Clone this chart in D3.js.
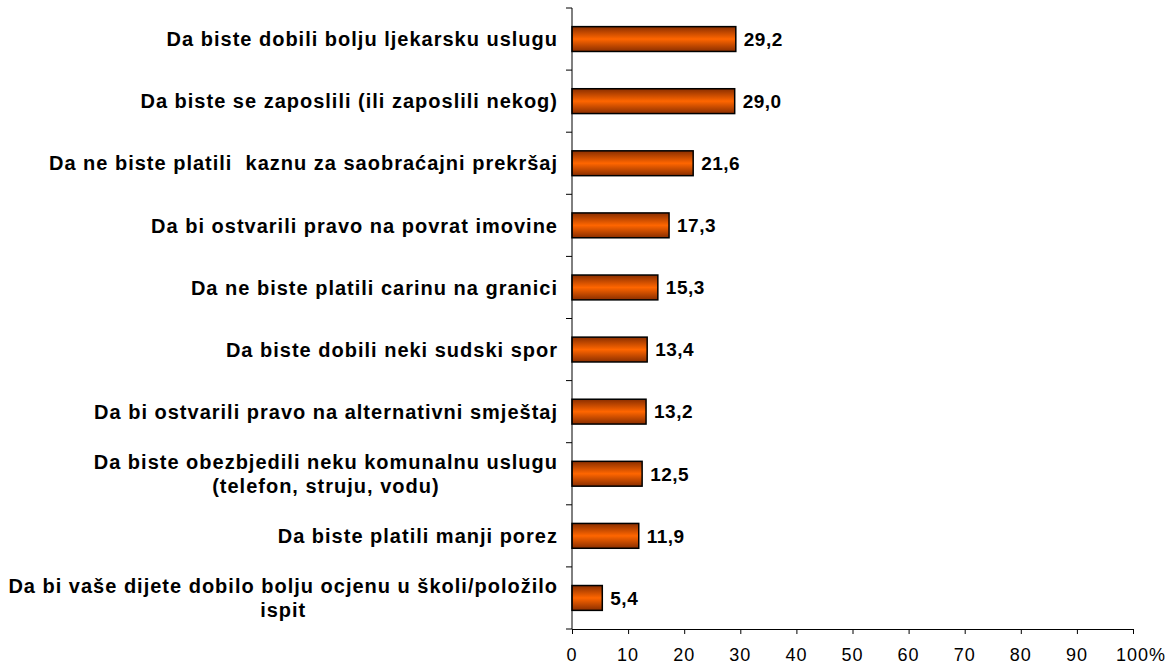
<!DOCTYPE html>
<html><head><meta charset="utf-8">
<script src="https://cdn.jsdelivr.net/npm/d3@7"></script>
<style>
body{margin:0;background:#fff;}
text{font-family:"Liberation Sans",Arial,sans-serif;white-space:pre;}
</style></head>
<body>
<svg id="chart" width="1176" height="665"></svg>
<script>
const categories = [
  "Da biste dobili bolju ljekarsku uslugu",
  "Da biste se zaposlili (ili zaposlili nekog)",
  "Da ne biste platili  kaznu za saobraćajni prekršaj",
  "Da bi ostvarili pravo na povrat imovine",
  "Da ne biste platili carinu na granici",
  "Da biste dobili neki sudski spor",
  "Da bi ostvarili pravo na alternativni smještaj",
  "Da biste obezbjedili neku komunalnu uslugu\n(telefon, struju, vodu)",
  "Da biste platili manji porez",
  "Da bi vaše dijete dobilo bolju ocjenu u školi/položilo\nispit"
];
const values = [29.2, 29.0, 21.6, 17.3, 15.3, 13.4, 13.2, 12.5, 11.9, 5.4];
const xTicks = [0,10,20,30,40,50,60,70,80,90,100];
const xTickLabels = ["0","10","20","30","40","50","60","70","80","90","100%"];

(function(){
const svg = d3.select("#chart");
const pLeft = 572, pRight = 1133, pTop = 8, pBottom = 629;
const x = d3.scaleLinear().domain([0,100]).range([pLeft,pRight]);
const y = d3.scaleBand().domain(categories).range([pTop,pBottom]).paddingInner(0.6).paddingOuter(0.3);

const defs = svg.append("defs");
const g = defs.append("linearGradient").attr("id","barGrad").attr("x1",0).attr("y1",0).attr("x2",0).attr("y2",1);
g.append("stop").attr("offset","0%").attr("stop-color","#8a2e00");
g.append("stop").attr("offset","50%").attr("stop-color","#ff6600");
g.append("stop").attr("offset","100%").attr("stop-color","#8a2e00");

svg.selectAll("rect.bar").data(values).join("rect")
  .attr("class","bar")
  .attr("x", x(0))
  .attr("y", (d,i)=>y(categories[i]))
  .attr("width", d=>x(d)-x(0))
  .attr("height", y.bandwidth())
  .attr("fill","url(#barGrad)")
  .attr("stroke","#000").attr("stroke-width",1.5);

svg.selectAll("text.val").data(values).join("text")
  .attr("class","val")
  .attr("x", d=>x(d)+8)
  .attr("y", (d,i)=>y(categories[i])+y.bandwidth()/2)
  .attr("dy","0.36em")
  .style("font-size","19px").attr("font-weight","bold").attr("letter-spacing","0.5px")
  .text(d=>d.toFixed(1).replace(".",","));

const yAxisG = svg.append("g");
yAxisG.append("line").attr("x1",pLeft).attr("x2",pLeft).attr("y1",pTop).attr("y2",pBottom).attr("stroke","#000");
const step = (pBottom-pTop)/categories.length;
d3.range(categories.length+1).forEach(i=>{
  yAxisG.append("line").attr("x1",pLeft-6).attr("x2",pLeft).attr("y1",pTop+i*step).attr("y2",pTop+i*step).attr("stroke","#000");
});

const xAxis = d3.axisBottom(x).tickValues(xTicks).tickSize(5).tickSizeOuter(0).tickFormat("");
const xg = svg.append("g").attr("transform",`translate(0,${pBottom})`).call(xAxis);
xg.select(".domain").attr("stroke","#000");
xg.selectAll(".tick line").attr("stroke","#000");

svg.append("g").selectAll("text.xt").data(xTicks).join("text")
  .attr("class","xt")
  .attr("x",(d,i)=> x(d) + (i===xTicks.length-1 ? 8 : 0))
  .attr("y", pBottom + 32)
  .attr("text-anchor","middle")
  .style("font-size","18px").style("letter-spacing","1px")
  .attr("fill","#000")
  .text((d,i)=>xTickLabels[i]);

const labelRight = 558;
categories.forEach((c,i)=>{
  const lines = c.split("\n");
  const cy = y(c)+y.bandwidth()/2;
  const lh = 24;
  const t = svg.append("text").style("font-size","20px").attr("font-weight","bold").attr("letter-spacing","1px").attr("text-anchor","middle");
  const spans = lines.map((l,j)=>t.append("tspan").attr("y", cy + (j-(lines.length-1)/2)*lh).attr("dy","0.36em").text(l));
  let maxW = 0;
  spans.forEach(s=>{maxW=Math.max(maxW,s.node().getComputedTextLength());});
  spans.forEach(s=>s.attr("x", labelRight - maxW/2));
});
})();
</script>
</body></html>
